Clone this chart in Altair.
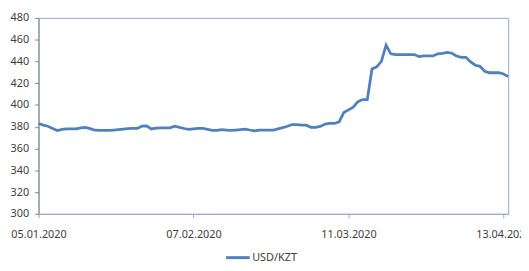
import altair as alt
import pandas as pd

start_date = "2020-01-05"
end_date = "2020-04-14"
tick_dates = ["2020-01-05", "2020-02-07", "2020-03-11", "2020-04-13"]
series_name = "USD/KZT"
usd_kzt = [
    383.0, 381.5, 380.5, 378.5, 376.5, 377.5, 378.0, 378.0, 378.0, 379.0,
    379.3, 378.3, 376.8, 376.6, 376.6, 376.6, 377.0, 377.4, 377.8, 378.2,
    378.4, 378.4, 380.5, 380.8, 378.0, 378.8, 379.0, 379.0, 379.0, 380.5,
    379.5, 378.4, 377.6, 378.0, 378.4, 378.4, 377.5, 376.6, 376.6, 377.3,
    377.0, 376.6, 377.0, 377.4, 377.8, 377.0, 376.3, 376.8, 376.9, 376.9,
    376.9, 378.0, 379.2, 380.5, 382.0, 382.0, 381.6, 381.4, 379.5, 379.5,
    380.3, 382.5, 383.0, 383.0, 384.5, 393.0, 395.5, 398.0, 403.0, 405.0,
    405.0, 433.0, 435.0, 440.0, 455.0, 447.0, 446.3, 446.3, 446.3, 446.3,
    446.3, 444.5, 445.0, 445.0, 445.0, 447.0, 447.5, 448.3, 447.5, 445.0,
    443.8, 443.8, 439.5, 436.5, 435.5, 431.0, 429.6, 429.6, 429.6, 428.5,
    426.0,
]

dates = pd.date_range(start_date, end_date, freq="D").strftime("%Y-%m-%d").tolist()
df = pd.DataFrame({"date": dates, "value": usd_kzt, "series": series_name})

def dt(s):
    y, m, d = (int(p) for p in s.split("-"))
    return alt.DateTime(year=y, month=m, date=d, utc=True)

label_color = "#404040"
font = "Noto Sans"

chart = alt.Chart(df).mark_line(strokeWidth=2.8, color="#4F81BD").encode(
    x=alt.X(
        "date:T",
        scale=alt.Scale(type="utc", domain=[dt(start_date), dt(end_date)]),
        axis=alt.Axis(
            values=[dt(s) for s in tick_dates],
            labelExpr="utcFormat(datum.value, '%d.%m.%Y')",
            title=None,
            grid=False,
            domainColor="#9BA8BC",
            tickColor="#9BA8BC",
            tickSize=4,
            labelPadding=11,
            labelFontSize=11,
            labelColor=label_color,
            labelFont=font,
            labelFlush=False,
            labelOverlap=False,
        ),
    ),
    y=alt.Y(
        "value:Q",
        scale=alt.Scale(domain=[300, 480], nice=False, zero=False),
        axis=alt.Axis(
            values=list(range(300, 481, 20)),
            title=None,
            grid=False,
            domainColor="#868686",
            tickColor="#868686",
            tickSize=4,
            labelPadding=6,
            labelFontSize=11,
            labelColor=label_color,
            labelFont=font,
        ),
    ),
    stroke=alt.Stroke(
        "series:N",
        scale=alt.Scale(range=["#4F81BD"]),
        legend=alt.Legend(
            title=None,
            orient="none",
            legendX=189,
            legendY=230,
            symbolType="stroke",
            symbolSize=576,
            symbolStrokeWidth=3,
            labelFontSize=11,
            labelColor=label_color,
            labelFont=font,
            labelOffset=1,
        ),
    ),
).properties(
    width=477,
    height=199,
    autosize=alt.AutoSizeParams(type="none"),
    padding={"left": 31, "top": 8, "right": 13, "bottom": 55},
).configure_view(stroke="#8EAADB", strokeWidth=1)

chart.save("out.html", embed_options={"renderer": "svg", "actions": False})
